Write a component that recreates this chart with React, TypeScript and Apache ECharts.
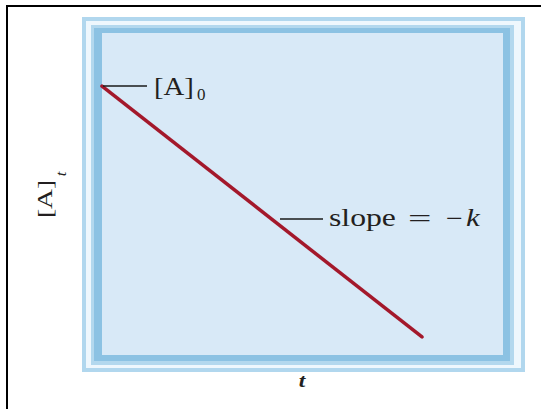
import React, { useEffect, useRef } from "react";
import * as echarts from "echarts";

// Data (axis units are arbitrary: 0..100 on both axes)
const timeValues = [0, 79.8];
const concentrationValues = [83.5, 5.6];
const axisRange = { xMin: 0, xMax: 100, yMin: 0, yMax: 100 };
const labelInitial = "[A]";
const labelInitialSub = "0";
const labelSlope = "slope";
const labelEquals = "=";
const labelMinus = "−";
const labelK = "k";
const yAxisTitle = "[A]";
const yAxisTitleSub = "t";
const xAxisTitle = "t";

const SERIF = "'Liberation Serif', 'DejaVu Serif', serif";
const INK = "#231f20";

export default function App() {
  const ref = useRef<HTMLDivElement>(null);

  useEffect(() => {
    if (!ref.current) return;
    const chart = echarts.init(ref.current, undefined, { renderer: "svg" });
    const seriesData = timeValues.map((t, i) => [t, concentrationValues[i]]);

    const txt = (
      text: string,
      x: number,
      y: number,
      size: number,
      opts: any = {}
    ) => ({
      type: "text",
      x,
      y,
      z: 10,
      rotation: opts.rotation || 0,
      scaleX: opts.scaleX || 1,
      scaleY: opts.scaleY || 1,
      style: {
        text,
        fontFamily: SERIF,
        fontSize: size,
        fontStyle: opts.italic ? "italic" : "normal",
        fontWeight: opts.bold ? "bold" : "normal",
        fill: INK,
        align: opts.align || "left",
        verticalAlign: "middle",
      },
    });

    chart.setOption({
      animation: false,
      backgroundColor: "#ffffff",
      grid: {
        left: 102,
        top: 33,
        width: 401,
        height: 322,
        show: false,
      },
      xAxis: {
        type: "value",
        min: axisRange.xMin,
        max: axisRange.xMax,
        show: false,
      },
      yAxis: {
        type: "value",
        min: axisRange.yMin,
        max: axisRange.yMax,
        show: false,
      },
      series: [
        {
          type: "line",
          data: seriesData,
          symbol: "none",
          z: 3,
          lineStyle: { color: "#a3182b", width: 3.5, cap: "round" },
        },
      ],
      graphic: [
        // page border (top and left only)
        { type: "line", z: 0, shape: { x1: 6, y1: 6, x2: 541, y2: 6 }, style: { stroke: "#000", lineWidth: 2 } },
        { type: "line", z: 0, shape: { x1: 7, y1: 5, x2: 7, y2: 409 }, style: { stroke: "#000", lineWidth: 2 } },
        // frame bands
        { type: "rect", z: 0, shape: { x: 82, y: 17, width: 443, height: 355 }, style: { fill: "#b1d7ee" } },
        { type: "rect", z: 0, shape: { x: 86, y: 21, width: 435, height: 347 }, style: { fill: "#eef7fd" } },
        { type: "rect", z: 0, shape: { x: 91, y: 25, width: 423, height: 340 }, style: { fill: "#b3d8ee" } },
        { type: "rect", z: 0, shape: { x: 94, y: 28, width: 416, height: 333 }, style: { fill: "#8cc2e3" } },
        // plot interior
        { type: "rect", z: 0, shape: { x: 102, y: 33, width: 401, height: 322 }, style: { fill: "#d8e9f7" } },
        // leader lines
        { type: "line", z: 5, shape: { x1: 103, y1: 86, x2: 147, y2: 86 }, style: { stroke: "#1a1a1a", lineWidth: 1.5 } },
        { type: "line", z: 5, shape: { x1: 280, y1: 219, x2: 323, y2: 219 }, style: { stroke: "#1a1a1a", lineWidth: 1.5 } },
        // annotation texts
        txt(labelInitial, 154, 87, 25, { scaleX: 1.15 }),
        txt(labelInitialSub, 197, 94, 17, { scaleX: 1.0 }),
        txt(labelSlope, 329, 217, 26, { scaleX: 1.22 }),
        txt(labelEquals, 408, 218, 26, { scaleX: 1.6 }),
        txt(labelMinus, 446, 218, 26, { scaleX: 1.15 }),
        txt(labelK, 466, 217, 26, { italic: true, scaleX: 1.2 }),
        // axis titles
        txt(yAxisTitle, 44, 199, 22, { rotation: Math.PI / 2, scaleX: 1.25, align: "center" }),
        txt(yAxisTitleSub, 61, 174, 15, { rotation: Math.PI / 2, italic: true, align: "center", scaleX: 1.1 }),
        txt(xAxisTitle, 302, 381, 18, { italic: true, bold: true, align: "center", scaleX: 1.3 }),
      ],
    });

    return () => chart.dispose();
  }, []);

  return (
    <div
      ref={ref}
      style={{ position: "fixed", left: 0, top: 0, width: 541, height: 409 }}
    />
  );
}
